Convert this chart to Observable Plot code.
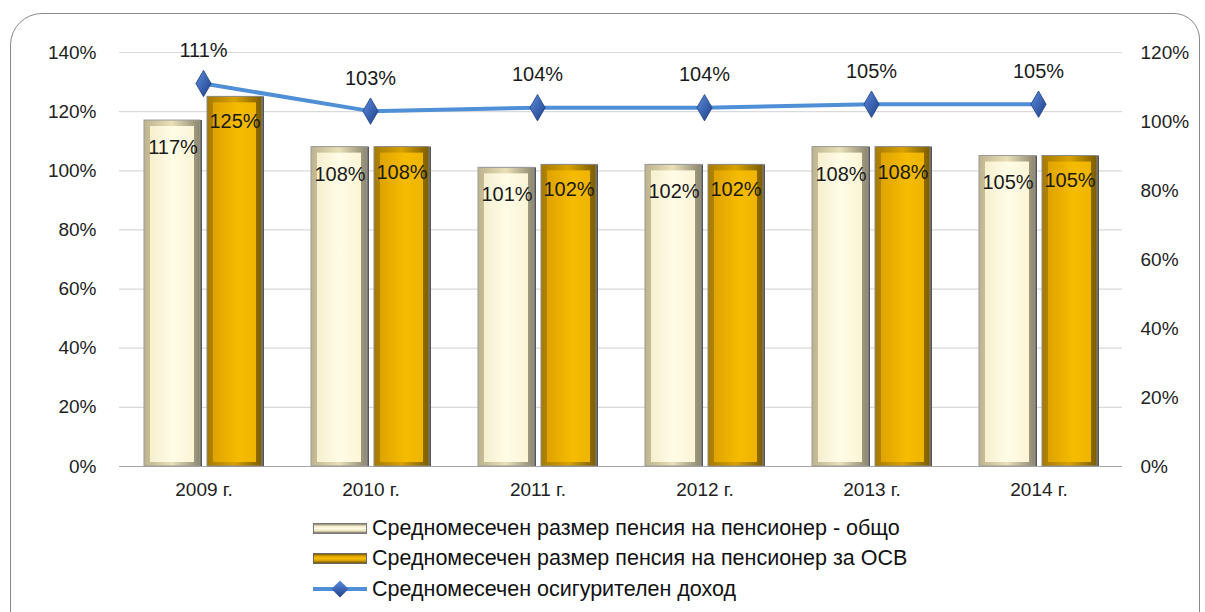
<!DOCTYPE html>
<html><head><meta charset="utf-8">
<script src="https://cdn.jsdelivr.net/npm/d3@7"></script>
<script src="https://cdn.jsdelivr.net/npm/@observablehq/plot@0.6"></script>
<style>
body{margin:0;background:#fff;overflow:hidden;}
#wrap{position:relative;width:1205px;height:612px;overflow:hidden;font-family:"Liberation Sans",Arial,sans-serif;}
#frame{position:absolute;left:10px;top:13px;width:1190px;height:660px;border:1.5px solid #8a8a8a;border-radius:32px 26px 0 0;box-sizing:border-box;}
.layer{position:absolute;left:0;top:0;}
#legend{position:absolute;left:313px;top:513px;font-size:21.5px;color:#111;}
.row{display:flex;align-items:center;height:30.5px;}
.sw{width:54px;height:11px;margin-right:5px;box-sizing:border-box;position:relative;}
</style></head>
<body>
<svg width="0" height="0" style="position:absolute">
<defs>
<linearGradient id="lightOuter" x1="0" x2="1" y1="0" y2="0">
<stop offset="0" stop-color="#bdb48e"/><stop offset="0.5" stop-color="#e9e0b8"/><stop offset="1" stop-color="#8c8670"/>
</linearGradient>
<linearGradient id="lightInner" x1="0" x2="1" y1="0" y2="0">
<stop offset="0" stop-color="#f6efcf"/><stop offset="0.5" stop-color="#fffce6"/><stop offset="1" stop-color="#fbf5d6"/>
</linearGradient>
<linearGradient id="goldOuter" x1="0" x2="1" y1="0" y2="0">
<stop offset="0" stop-color="#a57a00"/><stop offset="0.5" stop-color="#d9a200"/><stop offset="1" stop-color="#7a5c00"/>
</linearGradient>
<linearGradient id="goldInner" x1="0" x2="1" y1="0" y2="0">
<stop offset="0" stop-color="#dfa300"/><stop offset="0.6" stop-color="#f6bc00"/><stop offset="1" stop-color="#efb400"/>
</linearGradient>
<linearGradient id="diam" x1="0" x2="1" y1="0" y2="1">
<stop offset="0" stop-color="#5b8de0"/><stop offset="1" stop-color="#1f3f85"/>
</linearGradient>
</defs>
</svg>
<div id="wrap">
<div id="frame"></div>
<div id="legend">
<div class="row"><div class="sw" style="background:linear-gradient(#8a8572,#f3ecc9 25%,#fffce6 50%,#efe6c0 75%,#7a7666);border:1px solid #777"></div><span>Средномесечен размер пенсия на пенсионер - общо</span></div>
<div class="row"><div class="sw" style="background:linear-gradient(#7a5c00,#e0a600 25%,#f6bc00 50%,#d49e00 75%,#6d5200);border:1px solid #666"></div><span>Средномесечен размер пенсия на пенсионер за ОСВ</span></div>
<div class="row"><div class="sw" style="height:18px"><div style="position:absolute;left:0;top:7px;width:54px;height:4px;background:#4f8fd6"></div><div style="position:absolute;left:21px;top:3px;width:12px;height:12px;transform:rotate(45deg);background:linear-gradient(135deg,#5b8de0,#1f3f85)"></div></div><span>Средномесечен осигурителен доход</span></div>
</div>
</div>
<script>
const years = ["2009 г.", "2010 г.", "2011 г.", "2012 г.", "2013 г.", "2014 г."];
const pensionTotal = [117, 108, 101, 102, 108, 105];
const pensionOSV = [125, 108, 102, 102, 108, 105];
const insuranceIncome = [111, 103, 104, 104, 105, 105];
const leftTicks = [0, 20, 40, 60, 80, 100, 120, 140];
const rightTicks = [0, 20, 40, 60, 80, 100, 120];

const totalRows = years.map((year, i) => ({year, v: pensionTotal[i]}));
const osvRows = years.map((year, i) => ({year, v: pensionOSV[i]}));
const incomeRows = years.map((year, i) => ({year, v: insuranceIncome[i]}));

const font = '"Liberation Sans",Arial,sans-serif';
const common = {
  width: 1205, height: 500,
  marginLeft: 119, marginRight: 83, marginTop: 52, marginBottom: 34,
  style: {fontFamily: font, fontSize: "19px", color: "#222", background: "transparent", overflow: "visible"}
};
const L = {insetLeft: 24, insetRight: 87};
const G = {insetLeft: 87, insetRight: 25};

const bars = Plot.plot({
  ...common,
  x: {domain: years, padding: 0, label: null},
  y: {domain: [0, 140], label: null},
  marks: [
    Plot.ruleY(leftTicks, {stroke: d => d === 0 ? "#a6a6a6" : "#d9d9d9", strokeWidth: 1.2}),
    Plot.axisY(leftTicks, {tickSize: 0, tickPadding: 23, tickFormat: d => d + "%", label: null, fontSize: 19}),
    Plot.axisX({tickSize: 0, tickPadding: 16, label: null, fontSize: 19}),
    Plot.barY(totalRows, {x: "year", y: "v", ...L, dx: 2, fill: "#555"}),
    Plot.barY(osvRows, {x: "year", y: "v", ...G, dx: 2, fill: "#555"}),
    Plot.barY(totalRows, {x: "year", y: "v", ...L, fill: "url(#lightOuter)", stroke: "#9a9a9a", strokeWidth: 1}),
    Plot.barY(osvRows, {x: "year", y: "v", ...G, fill: "url(#goldOuter)", stroke: "#8a8a8a", strokeWidth: 1}),
    Plot.barY(totalRows, {x: "year", y: "v", insetLeft: 24 + 6, insetRight: 87 + 6, insetTop: 6, insetBottom: 4, fill: "url(#lightInner)"}),
    Plot.barY(osvRows, {x: "year", y: "v", insetLeft: 87 + 6, insetRight: 25 + 6, insetTop: 6, insetBottom: 4, fill: "url(#goldInner)"}),
    Plot.text(totalRows, {x: "year", y: "v", text: d => d.v + "%", dx: -31, dy: 27, fontSize: 20, fill: "#1a1a1a"}),
    Plot.text(osvRows, {x: "year", y: "v", text: d => d.v + "%", dx: 31, dy: 25, fontSize: 20, fill: "#1a1a1a"})
  ]
});
bars.classList.add("layer");

const line = Plot.plot({
  ...common,
  x: {type: "point", domain: years, padding: 0.5, label: null, axis: null},
  y: {domain: [0, 120], label: null, axis: null},
  marks: [
    Plot.axisY(rightTicks, {anchor: "right", tickSize: 0, tickPadding: 18, tickFormat: d => d + "%", label: null, fontSize: 19}),
    Plot.line(incomeRows, {x: "year", y: "v", stroke: "#4f8fd6", strokeWidth: 4}),
    Plot.dot(incomeRows, {x: "year", y: "v", symbol: "diamond", r: 8, fill: "url(#diam)", stroke: "#1f3f85", strokeWidth: 0.8}),
    Plot.text(incomeRows, {x: "year", y: "v", text: d => d.v + "%", dy: -33, fontSize: 20, fill: "#1a1a1a"})
  ]
});
line.classList.add("layer");

const wrap = document.getElementById("wrap");
wrap.appendChild(bars);
wrap.appendChild(line);
</script>
</body></html>
